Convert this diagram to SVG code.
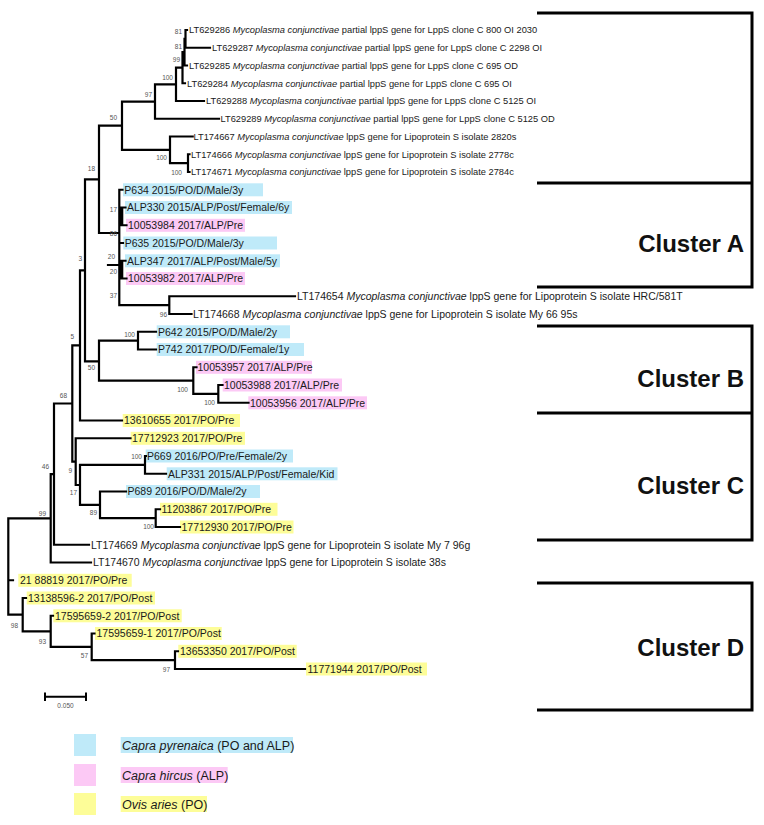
<svg xmlns="http://www.w3.org/2000/svg" width="764" height="825" viewBox="0 0 764 825">
<style>
.t{font-family:"Liberation Sans",Arial,sans-serif;font-size:10.5px;fill:#1a1a1a}
.s{font-size:9.3px}
.i{font-style:italic}
.b{font-family:"Liberation Sans",Arial,sans-serif;font-size:6.5px;fill:#555;text-anchor:end}
.cl{font-family:"Liberation Sans",Arial,sans-serif;font-size:24px;font-weight:bold;fill:#111;text-anchor:end}
.lg{font-family:"Liberation Sans",Arial,sans-serif;font-size:12.5px;fill:#1a1a1a}
.blue{fill:#bfeaf9}
.pink{fill:#fcc9f5}
.yel{fill:#fdfd98}
.tree{fill:none;stroke:#000;stroke-width:2.2;stroke-linecap:square}
</style>
<rect width="764" height="825" fill="#fff"/>

<g id="highlights">
<rect class="blue" x="123" y="183.3" width="140" height="13"/>
<rect class="blue" x="125" y="201" width="167" height="13"/>
<rect class="pink" x="126" y="218.8" width="119" height="13"/>
<rect class="blue" x="123.3" y="236.5" width="153.7" height="13"/>
<rect class="blue" x="125" y="254.3" width="155" height="13"/>
<rect class="pink" x="126" y="272" width="119" height="13"/>
<rect class="blue" x="156.7" y="325.3" width="133.3" height="13"/>
<rect class="blue" x="156.7" y="343" width="147.3" height="13"/>
<rect class="pink" x="196" y="360.8" width="116" height="13"/>
<rect class="pink" x="222.7" y="378.5" width="119.3" height="13"/>
<rect class="pink" x="248.3" y="396.3" width="118.7" height="13"/>
<rect class="yel" x="122.7" y="414" width="117.3" height="13"/>
<rect class="yel" x="130.7" y="431.8" width="114.3" height="13"/>
<rect class="blue" x="145.7" y="449.5" width="147.3" height="13"/>
<rect class="blue" x="166.7" y="467.3" width="170.8" height="13"/>
<rect class="blue" x="126" y="485" width="134" height="13"/>
<rect class="yel" x="160" y="502.8" width="117.5" height="13"/>
<rect class="yel" x="180" y="520.5" width="113.5" height="13"/>
<rect class="yel" x="18.3" y="573.8" width="113.4" height="13"/>
<rect class="yel" x="26.7" y="591.5" width="128.3" height="13"/>
<rect class="yel" x="53.3" y="609.3" width="128.4" height="13"/>
<rect class="yel" x="95" y="627" width="126.7" height="13"/>
<rect class="yel" x="178.3" y="644.8" width="118.4" height="13"/>
<rect class="yel" x="306" y="662.5" width="121" height="13"/>
</g>

<g id="connectors">
<path class="tree" d="
M185.5 30 V47.75 M185.5 30 H187 M185.5 47.75 H210
M184.5 38.9 V65.5 M184.5 38.9 H185.5 M184.5 65.5 H187
M182.5 52.2 V83.25 M182.5 52.2 H184.5 M182.5 83.25 H185
M176 67.7 V101 M176 67.7 H182.5 M176 101 H204
M155 84.4 V118.75 M155 84.4 H176 M155 118.75 H219
M170 136.5 V163.1 M170 136.5 H192.7 M170 163.1 H188
M188 154.25 V172 M188 154.25 H189.5 M188 172 H189.5
M122 101.6 V149.8 M122 101.6 H155 M122 149.8 H170
M99 125.7 V233 M99 125.7 H122 M99 233 H119.3
M119.3 189.75 V305.1 M119.3 189.75 H122.5 M119.3 243 H123 M119.3 216.4 H121.5 M119.3 269.6 H121.5
M121.5 207.5 H125.5 M121.5 225.25 H126.5 M121.5 260.75 H125.5 M121.5 278.5 H126.5
M108 265 H119.3 M119.3 305.1 H169.3
M169.3 296.25 V314 M169.3 296.25 H295 M169.3 314 H191.5
M85 179.4 V361.3 M85 179.4 H99 M85 361.3 H99
M99 340.6 V380.6 M99 340.6 H138 M99 380.6 H193.3
M138 331.75 V349.5 M138 331.75 H156 M138 349.5 H156
M193.3 367.25 V393.9 M193.3 367.25 H196.5 M193.3 393.9 H218.3
M218.3 385 V402.75 M218.3 385 H222.5 M218.3 402.75 H248.5
M80 270.3 V420.5 M80 270.3 H85 M80 420.5 H122
M72.3 345.4 V461.6 M72.3 345.4 H80 M72.3 461.6 H75.7
M75.7 438.25 V485 M75.7 438.25 H130.5 M75.7 485 H80
M80 464.9 V504.8 M80 464.9 H145 M80 504.8 H100
M145 456 V473.75 M145 456 H146 M145 473.75 H166
M100 491.5 V518.1 M100 491.5 H126 M100 518.1 H155.7
M155.7 509.25 V527 M155.7 509.25 H160 M155.7 527 H180
M54 403.5 V544.75 M54 403.5 H72.3 M54 544.75 H89
M50.7 474.1 V562.5 M50.7 474.1 H54 M50.7 562.5 H91
M8.3 518.3 V614.6 M8.3 518.3 H50.7 M8.3 580.25 H13 M8.3 614.6 H22.7
M22.7 598 V631.3 M22.7 598 H26 M22.7 631.3 H50.7
M50.7 615.75 V646.8 M50.7 615.75 H53 M50.7 646.8 H91.7
M91.7 633.5 V660.1 M91.7 633.5 H94.5 M91.7 660.1 H175
M175 651.25 V669 M175 651.25 H178 M175 669 H305
"/>
<path fill="none" stroke="#000" stroke-width="3.6" d="M121.5 207.5 V225.25 M121.5 260.75 V278.5"/>
<path fill="none" stroke="#000" stroke-width="3" d="M537 13 H752 V287 H537 M537 183 H752 M537 326 H752 V540 H537 M537 413 H752 M537 583 H752 V710 H537"/>
</g>

<g id="bootstrap">
<text class="b" x="182" y="34.3">81</text>
<text class="b" x="182" y="49.3">81</text>
<text class="b" x="180" y="62.3">99</text>
<text class="b" x="173" y="80.3">100</text>
<text class="b" x="152" y="97.3">97</text>
<text class="b" x="117" y="120.3">50</text>
<text class="b" x="167" y="160.3">100</text>
<text class="b" x="182" y="175.3">100</text>
<text class="b" x="95" y="171.3">18</text>
<text class="b" x="117" y="212.3">17</text>
<text class="b" x="117" y="236.3">86</text>
<text class="b" x="115" y="259.3">20</text>
<text class="b" x="117" y="274.3">20</text>
<text class="b" x="117" y="298.3">37</text>
<text class="b" x="167" y="317.3">96</text>
<text class="b" x="82" y="261.3">3</text>
<text class="b" x="135" y="337.3">100</text>
<text class="b" x="95" y="370.3">50</text>
<text class="b" x="188" y="392.3">100</text>
<text class="b" x="215" y="405.3">100</text>
<text class="b" x="74" y="339.3">5</text>
<text class="b" x="67" y="398.3">68</text>
<text class="b" x="72" y="473.3">9</text>
<text class="b" x="142" y="459.3">100</text>
<text class="b" x="49" y="469.3">46</text>
<text class="b" x="77" y="495.3">17</text>
<text class="b" x="97" y="515.3">89</text>
<text class="b" x="154" y="529.3">100</text>
<text class="b" x="46" y="516.3">99</text>
<text class="b" x="18" y="628.3">98</text>
<text class="b" x="46" y="644.3">93</text>
<text class="b" x="88" y="658.3">57</text>
<text class="b" x="170" y="672.3">97</text>
</g>

<g id="labels">
<text class="t s" x="189" y="33.3">LT629286 <tspan class="i">Mycoplasma conjunctivae</tspan> partial lppS gene for LppS clone C 800 OI 2030</text>
<text class="t s" x="212" y="51">LT629287 <tspan class="i">Mycoplasma conjunctivae</tspan> partial lppS gene for LppS clone C 2298 OI</text>
<text class="t s" x="189" y="68.8">LT629285 <tspan class="i">Mycoplasma conjunctivae</tspan> partial lppS gene for LppS clone C 695 OD</text>
<text class="t s" x="187" y="86.5">LT629284 <tspan class="i">Mycoplasma conjunctivae</tspan> partial lppS gene for LppS clone C 695 OI</text>
<text class="t s" x="206" y="104.3">LT629288 <tspan class="i">Mycoplasma conjunctivae</tspan> partial lppS gene for LppS clone C 5125 OI</text>
<text class="t s" x="220.5" y="122">LT629289 <tspan class="i">Mycoplasma conjunctivae</tspan> partial lppS gene for LppS clone C 5125 OD</text>
<text class="t s" x="193.5" y="139.8">LT174667 <tspan class="i">Mycoplasma conjunctivae</tspan> lppS gene for Lipoprotein S isolate 2820s</text>
<text class="t s" x="191" y="157.5">LT174666 <tspan class="i">Mycoplasma conjunctivae</tspan> lppS gene for Lipoprotein S isolate 2778c</text>
<text class="t s" x="191" y="175.3">LT174671 <tspan class="i">Mycoplasma conjunctivae</tspan> lppS gene for Lipoprotein S isolate 2784c</text>
<text class="t" x="124.3" y="193.5">P634 2015/PO/D/Male/3y</text>
<text class="t" x="127" y="211.3">ALP330 2015/ALP/Post/Female/6y</text>
<text class="t" x="128" y="229">10053984 2017/ALP/Pre</text>
<text class="t" x="124.7" y="246.8">P635 2015/PO/D/Male/3y</text>
<text class="t" x="127" y="264.5">ALP347 2017/ALP/Post/Male/5y</text>
<text class="t" x="128" y="282.3">10053982 2017/ALP/Pre</text>
<text class="t" x="297" y="300">LT174654 <tspan class="i">Mycoplasma conjunctivae</tspan> lppS gene for Lipoprotein S isolate HRC/581T</text>
<text class="t" x="193" y="317.8">LT174668 <tspan class="i">Mycoplasma conjunctivae</tspan> lppS gene for Lipoprotein S isolate My 66 95s</text>
<text class="t" x="158" y="335.5">P642 2015/PO/D/Male/2y</text>
<text class="t" x="158" y="353.3">P742 2017/PO/D/Female/1y</text>
<text class="t" x="197.5" y="371">10053957 2017/ALP/Pre</text>
<text class="t" x="224" y="388.8">10053988 2017/ALP/Pre</text>
<text class="t" x="250" y="406.5">10053956 2017/ALP/Pre</text>
<text class="t" x="124" y="424.3">13610655 2017/PO/Pre</text>
<text class="t" x="132" y="442">17712923 2017/PO/Pre</text>
<text class="t" x="147" y="459.8">P669 2016/PO/Pre/Female/2y</text>
<text class="t" x="168" y="477.5">ALP331 2015/ALP/Post/Female/Kid</text>
<text class="t" x="127.5" y="495.3">P689 2016/PO/D/Male/2y</text>
<text class="t" x="161.5" y="513">11203867 2017/PO/Pre</text>
<text class="t" x="181.5" y="530.8">17712930 2017/PO/Pre</text>
<text class="t" x="91" y="548.5">LT174669 <tspan class="i">Mycoplasma conjunctivae</tspan> lppS gene for Lipoprotein S isolate My 7 96g</text>
<text class="t" x="93" y="566.3">LT174670 <tspan class="i">Mycoplasma conjunctivae</tspan> lppS gene for Lipoprotein S isolate 38s</text>
<text class="t" x="20" y="584">21 88819 2017/PO/Pre</text>
<text class="t" x="28" y="601.8">13138596-2 2017/PO/Post</text>
<text class="t" x="55" y="619.5">17595659-2 2017/PO/Post</text>
<text class="t" x="96.5" y="637.3">17595659-1 2017/PO/Post</text>
<text class="t" x="180" y="655">13653350 2017/PO/Post</text>
<text class="t" x="307.5" y="672.8">11771944 2017/PO/Post</text>
</g>

<g id="clusters">
<text class="cl" x="744" y="251.5">Cluster A</text>
<text class="cl" x="744" y="386.5">Cluster B</text>
<text class="cl" x="744" y="493.5">Cluster C</text>
<text class="cl" x="744" y="655.5">Cluster D</text>
</g>

<g id="scalebar">
<path fill="none" stroke="#000" stroke-width="2" d="M45 696.7 H86 M45 692.5 V701 M86 692.5 V701"/>
<text class="b" x="65.5" y="708" style="text-anchor:middle">0.050</text>
</g>

<g id="legend">
<rect class="blue" x="74" y="734" width="22" height="22"/>
<rect class="pink" x="74" y="764" width="22" height="22"/>
<rect class="yel" x="74" y="793" width="22" height="22"/>
<rect class="blue" x="120.7" y="737" width="172.3" height="16"/>
<rect class="pink" x="120.7" y="767" width="107" height="16"/>
<rect class="yel" x="120.7" y="796" width="86.3" height="16"/>
<text class="lg" x="122" y="749.5"><tspan class="i">Capra pyrenaica</tspan> (PO and ALP)</text>
<text class="lg" x="122" y="779.5"><tspan class="i">Capra hircus</tspan> (ALP)</text>
<text class="lg" x="122" y="808.5"><tspan class="i">Ovis aries</tspan> (PO)</text>
</g>
</svg>
